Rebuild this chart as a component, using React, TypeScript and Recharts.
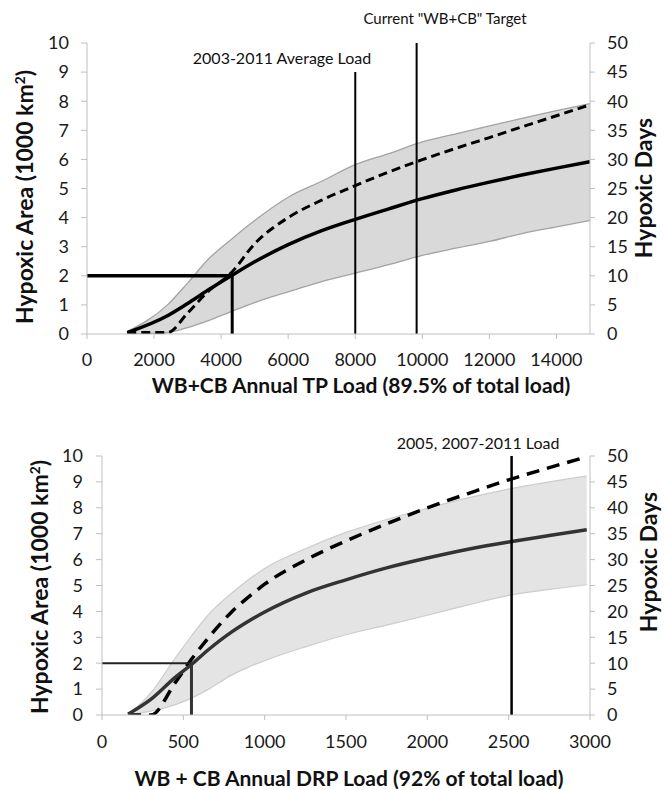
import React from 'react'
import { ComposedChart, Area, Line, XAxis, YAxis, ReferenceLine } from 'recharts'

// top panel: TP load (metric tonnes) vs hypoxic area
const tpLoad = [1200, 2400, 3000, 3600, 4300, 5000, 6000, 7000, 8000, 9000, 10000, 11000, 12000, 13000, 14000, 15000]
const tpAreaMean = [0.05, 0.63, 1.05, 1.5, 2.0, 2.48, 3.07, 3.55, 3.94, 4.3, 4.65, 4.95, 5.22, 5.47, 5.7, 5.92]
const tpAreaUpper = [0.08, 1.0, 1.75, 2.55, 3.25, 3.9, 4.7, 5.25, 5.82, 6.2, 6.6, 6.88, 7.15, 7.42, 7.68, 7.92]
const tpAreaLower = [0.0, 0.05, 0.22, 0.45, 0.77, 1.08, 1.45, 1.8, 2.09, 2.38, 2.7, 2.95, 3.18, 3.46, 3.68, 3.9]
const tpDays = [0.25, 0.25, 3.6, 7.25, 10.5, 15.5, 20.0, 23.0, 25.5, 27.85, 29.95, 31.9, 33.75, 35.65, 37.5, 39.4]
const tpTicks = [0, 2000, 4000, 6000, 8000, 10000, 12000, 14000]
const tpThresholdLoad = 4330
const tpAverageLoad = 8000
const tpTargetLoad = 9830

// bottom panel: DRP load vs hypoxic area
const drpLoad = [160, 300, 450, 550, 650, 800, 900, 1000, 1250, 1500, 1750, 2000, 2250, 2500, 2750, 2980]
const drpAreaMean = [0.03, 0.6, 1.45, 1.95, 2.5, 3.22, 3.62, 3.98, 4.7, 5.22, 5.68, 6.06, 6.4, 6.68, 6.93, 7.15]
const drpAreaUpper = [0.0, 0.85, 2.2, 3.05, 3.85, 4.72, 5.22, 5.66, 6.42, 7.05, 7.55, 7.98, 8.38, 8.72, 9.0, 9.23]
const drpAreaLower = [0.0, 0.15, 0.4, 0.65, 0.98, 1.55, 1.85, 2.1, 2.63, 3.1, 3.47, 3.85, 4.25, 4.62, 4.85, 5.03]
const drpDays = [0, 0, 6.25, 10.75, 14.75, 20.0, 22.75, 25.25, 29.9, 33.6, 36.9, 40.0, 42.75, 45.4, 47.75, 49.85]
const drpTicks = [0, 500, 1000, 1500, 2000, 2500, 3000]
const drpThresholdLoad = 550
const drpRecentLoad = 2518

const areaTicks = [0, 1, 2, 3, 4, 5, 6, 7, 8, 9, 10]
const dayTicks = [0, 5, 10, 15, 20, 25, 30, 35, 40, 45, 50]
const thresholdArea = 2

const FONT = 'Lato, "Open Sans", sans-serif'
const AXIS_GRAY = '#bfbfbf'

const tpData = tpLoad.map((x, i) => ({
  load: x,
  mean: tpAreaMean[i],
  days: tpDays[i],
  band: [tpAreaLower[i], tpAreaUpper[i]],
}))

const drpData = drpLoad.map((x, i) => ({
  load: x,
  mean: drpAreaMean[i],
  days: drpDays[i],
  band: [drpAreaLower[i], drpAreaUpper[i]],
}))

const tickStyle = { fontSize: 18, fill: '#1a1a1a', fontFamily: FONT }

const label = (style: React.CSSProperties, text: React.ReactNode) => (
  <div style={{ position: 'absolute', fontFamily: FONT, color: '#111', whiteSpace: 'nowrap', ...style }}>{text}</div>
)

const rotated = (left: number, top: number, text: React.ReactNode, size = 23) => (
  <div style={{ position: 'absolute', left, top, width: 0, height: 0 }}>
    <div
      style={{
        position: 'absolute',
        left: 0,
        top: 0,
        transform: 'translate(-50%, -50%) rotate(-90deg)',
        fontFamily: FONT,
        fontWeight: 700,
        fontSize: size,
        color: '#111',
        whiteSpace: 'nowrap',
        lineHeight: 1,
      }}
    >
      {text}
    </div>
  </div>
)

const areaTitle = <span>Hypoxic Area (1000 km<sup style={{ fontSize: '0.6em' }}>2</sup>)</span>

export default function App() {
  return (
    <div style={{ position: 'absolute', left: 0, top: 0, width: 665, height: 790, background: '#fff', overflow: 'hidden' }}>
      <div style={{ position: 'absolute', left: 0, top: 0 }}>
        <ComposedChart width={665} height={400} data={tpData} margin={{ top: 43, right: 0, bottom: 0, left: 0 }}>
          <XAxis
            dataKey="load"
            type="number"
            domain={[0, 15000]}
            ticks={tpTicks}
            interval={0}
            allowDataOverflow
            height={66}
            tick={tickStyle}
            tickSize={5}
            tickMargin={14}
            stroke={AXIS_GRAY}
          />
          <YAxis
            yAxisId="area"
            domain={[0, 10]}
            ticks={areaTicks}
            interval={0}
            allowDataOverflow
            width={87}
            tick={tickStyle}
            tickSize={6}
            tickMargin={12}
            stroke={AXIS_GRAY}
          />
          <YAxis
            yAxisId="days"
            orientation="right"
            domain={[0, 50]}
            ticks={dayTicks}
            interval={0}
            allowDataOverflow
            width={75}
            tick={{ ...tickStyle, textAnchor: 'start' }}
            tickSize={5}
            tickMargin={12}
            stroke={AXIS_GRAY}
          />
          <Area
            yAxisId="area"
            dataKey="band"
            type="monotone"
            fill="#d9d9d9"
            fillOpacity={1}
            stroke="#a3a3a3"
            strokeWidth={1.3}
            isAnimationActive={false}
          />
          <Line
            yAxisId="days"
            dataKey="days"
            type="monotone"
            stroke="#000"
            strokeWidth={3}
            strokeDasharray="9 5"
            dot={false}
            isAnimationActive={false}
          />
          <Line
            yAxisId="area"
            dataKey="mean"
            type="monotone"
            stroke="#000"
            strokeWidth={3.5}
            dot={false}
            isAnimationActive={false}
          />
          <ReferenceLine yAxisId="area" segment={[{ x: 0, y: thresholdArea }, { x: tpThresholdLoad, y: thresholdArea }]} stroke="#000" strokeWidth={3.5} />
          <ReferenceLine yAxisId="area" segment={[{ x: tpThresholdLoad, y: 0 }, { x: tpThresholdLoad, y: thresholdArea }]} stroke="#000" strokeWidth={3} />
          <ReferenceLine yAxisId="area" segment={[{ x: tpAverageLoad, y: 0 }, { x: tpAverageLoad, y: 9 }]} stroke="#000" strokeWidth={2} />
          <ReferenceLine yAxisId="area" segment={[{ x: tpTargetLoad, y: 0 }, { x: tpTargetLoad, y: 10 }]} stroke="#000" strokeWidth={2} />
        </ComposedChart>
      </div>

      <div style={{ position: 'absolute', left: 0, top: 400 }}>
        <ComposedChart width={665} height={390} data={drpData} margin={{ top: 56, right: 0, bottom: 0, left: 0 }}>
          <XAxis
            dataKey="load"
            type="number"
            domain={[0, 3000]}
            ticks={drpTicks}
            interval={0}
            allowDataOverflow
            height={75}
            tick={tickStyle}
            tickSize={5}
            tickMargin={15}
            stroke={AXIS_GRAY}
          />
          <YAxis
            yAxisId="area"
            domain={[0, 10]}
            ticks={areaTicks}
            interval={0}
            allowDataOverflow
            width={102}
            tick={tickStyle}
            tickSize={6}
            tickMargin={13}
            stroke={AXIS_GRAY}
          />
          <YAxis
            yAxisId="days"
            orientation="right"
            domain={[0, 50]}
            ticks={dayTicks}
            interval={0}
            allowDataOverflow
            width={75}
            tick={{ ...tickStyle, textAnchor: 'start' }}
            tickSize={5}
            tickMargin={12}
            stroke={AXIS_GRAY}
          />
          <Area
            yAxisId="area"
            dataKey="band"
            type="monotone"
            fill="#e4e4e4"
            fillOpacity={1}
            stroke="#cccccc"
            strokeWidth={1.2}
            isAnimationActive={false}
          />
          <Line
            yAxisId="days"
            dataKey="days"
            type="monotone"
            stroke="#000"
            strokeWidth={3.5}
            strokeDasharray="13 8"
            dot={false}
            isAnimationActive={false}
          />
          <Line
            yAxisId="area"
            dataKey="mean"
            type="monotone"
            stroke="#333"
            strokeWidth={3.5}
            dot={false}
            isAnimationActive={false}
          />
          <ReferenceLine yAxisId="area" segment={[{ x: 0, y: thresholdArea }, { x: drpThresholdLoad, y: thresholdArea }]} stroke="#222" strokeWidth={2} />
          <ReferenceLine yAxisId="area" segment={[{ x: drpThresholdLoad, y: 0 }, { x: drpThresholdLoad, y: thresholdArea }]} stroke="#333" strokeWidth={3} />
          <ReferenceLine yAxisId="area" segment={[{ x: drpRecentLoad, y: 0 }, { x: drpRecentLoad, y: 10 }]} stroke="#000" strokeWidth={2.5} />
        </ComposedChart>
      </div>

      {label({ left: 445, top: 18, transform: 'translate(-50%, -50%)', fontSize: 15 }, 'Current "WB+CB" Target')}
      {label({ left: 282, top: 57, transform: 'translate(-50%, -50%)', fontSize: 16 }, '2003-2011 Average Load')}
      {label({ left: 478, top: 442, transform: 'translate(-50%, -50%)', fontSize: 16 }, '2005, 2007-2011 Load')}

      {label({ left: 361, top: 384, transform: 'translate(-50%, -50%)', fontSize: 21, fontWeight: 700 }, 'WB+CB Annual TP Load (89.5% of total load)')}
      {label({ left: 349, top: 777, transform: 'translate(-50%, -50%)', fontSize: 21, fontWeight: 700 }, 'WB + CB Annual DRP Load (92% of total load)')}

      {rotated(24, 197, areaTitle)}
      {rotated(643, 188, 'Hypoxic Days')}
      {rotated(39, 587, areaTitle)}
      {rotated(648, 562, 'Hypoxic Days')}
    </div>
  )
}
